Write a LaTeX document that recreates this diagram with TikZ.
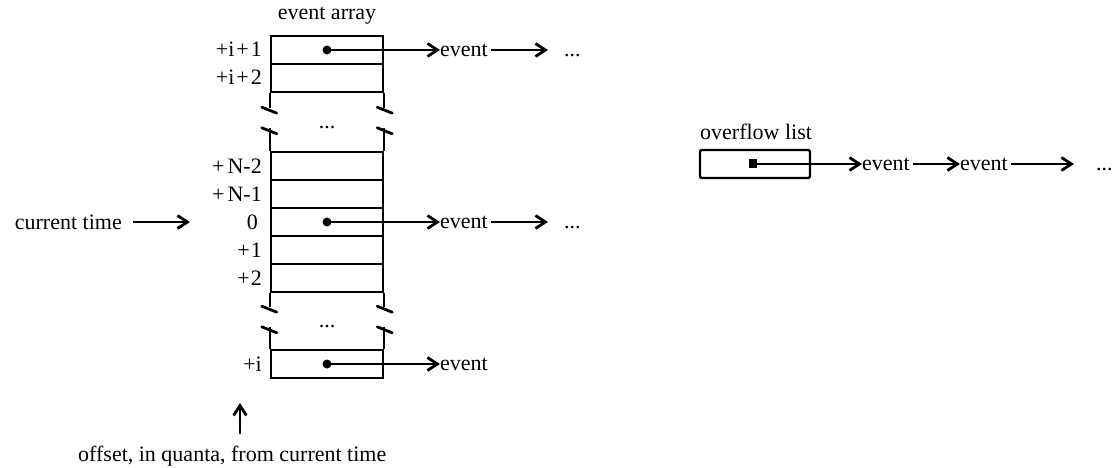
\documentclass[tikz,border=0pt]{standalone}
\usepackage{fontspec}
\setmainfont{Liberation Serif}
\usetikzlibrary{arrows.meta}
\begin{document}
\begin{tikzpicture}[x=1pt,y=-1pt,
  every node/.style={font=\fontsize{22}{26}\selectfont},
  cell/.style={draw,line width=2.4pt,minimum width=112pt,minimum height=28pt,inner sep=0pt},
  lbl/.style={anchor=base east,inner sep=0pt},
  txt/.style={inner sep=0pt},
  arr/.style={line width=2.2pt,-{Straight Barb[length=10pt,width=13pt,line width=2.8pt]}},
  brk/.style={line width=2.8pt,line cap=round},
  wall/.style={line width=2.4pt},
  dot/.style={fill=black}]
\useasboundingbox (0,0) rectangle (1114,468);

% array cells
\node[cell] (c1) at (327,50) {};
\node[cell] (c2) at (327,78) {};
\node[cell] (c3) at (327,166) {};
\node[cell] (c4) at (327,194) {};
\node[cell] (c5) at (327,222) {};
\node[cell] (c6) at (327,250) {};
\node[cell] (c7) at (327,278) {};
\node[cell] (c8) at (327,364) {};

% title
\node[txt] (title) at (327,16) {event array};

% labels
\node[lbl] (l1) at (262,57) {+i\kern2pt+\kern2pt1};
\node[lbl] (l2) at (262,85) {+i\kern2pt+\kern2pt2};
\node[lbl] (l3) at (262,173) {+\kern3pt N-2};
\node[lbl] (l4) at (262,201) {+\kern3pt N-1};
\node[lbl] (l5) at (258,229) {0};
\node[lbl] (l6) at (262,257) {+\kern1pt1};
\node[lbl] (l7) at (262,285) {+\kern1pt2};
\node[lbl] (l8) at (262,371) {+i};

% walls and break marks
\draw[wall] (c2.south west) -- ++(0,15) coordinate (b1l);
\draw[wall] (c2.south east) -- ++(0,15) coordinate (b1r);
\draw[brk] ([shift={(-8,-1)}]b1l) -- ++(15,6);
\draw[brk] ([shift={(-7,-1)}]b1r) -- ++(15,6);
\node[txt] (dots1) at (327,128) {...};
\draw[wall] (c3.north west) -- ++(0,-23) coordinate (b2l);
\draw[wall] (c3.north east) -- ++(0,-23) coordinate (b2r);
\draw[brk] ([shift={(-8,0)}]b2l) -- ++(15,6);
\draw[brk] ([shift={(-7,0)}]b2r) -- ++(15,6);

\draw[wall] (c7.south west) -- ++(0,14) coordinate (b3l);
\draw[wall] (c7.south east) -- ++(0,14) coordinate (b3r);
\draw[brk] ([shift={(-8,-1)}]b3l) -- ++(15,6);
\draw[brk] ([shift={(-7,-1)}]b3r) -- ++(15,6);
\node[txt] (dots2) at (327,327) {...};
\draw[wall] (c8.north west) -- ++(0,-22) coordinate (b4l);
\draw[wall] (c8.north east) -- ++(0,-22) coordinate (b4r);
\draw[brk] ([shift={(-8,0)}]b4l) -- ++(15,6);
\draw[brk] ([shift={(-7,0)}]b4r) -- ++(15,6);

% pointers from array
\coordinate (d1) at (327,50);
\coordinate (d5) at (327,222);
\coordinate (d8) at (327,364);
\fill[dot] (d1) circle (4.5pt);
\fill[dot] (d5) circle (4.5pt);
\fill[dot] (d8) circle (4.5pt);

\node[txt,anchor=west] (e1) at (440,50) {event};
\node[txt,anchor=west] (e5) at (440,222) {event};
\node[txt,anchor=west] (e8) at (440,364) {event};
\draw[arr] (d1) -- (e1.west);
\draw[arr] (d5) -- (e5.west);
\draw[arr] (d8) -- (e8.west);

\node[txt,anchor=base west] (m1) at (564,56.4) {...};
\node[txt,anchor=base west] (m5) at (564,228.4) {...};
\coordinate (t1) at (548,50);
\coordinate (t5) at (548,222);
\draw[arr] ([xshift=3pt]e1.east) -- (t1);
\draw[arr] ([xshift=3pt]e5.east) -- (t5);

% current time
\node[txt,anchor=east] (ct) at (122,222) {current time};
\coordinate (cta) at (190,222);
\draw[arr] ([xshift=11pt]ct.east) -- (cta);

% offset
\coordinate (upB) at (240,434);
\coordinate (upT) at (240,403);
\draw[arr] (upB) -- (upT);
\node[txt,anchor=base west] (off) at (78,461) {offset, in quanta, from current time};

% overflow list
\node[txt,anchor=base west] (ovt) at (700,140) {overflow list};
\node[draw,line width=2.4pt,rounded corners=2pt,minimum width=110pt,minimum height=28pt,inner sep=0pt] (ov) at (755,164) {};
\coordinate (od) at (753,164);
\fill[dot] ([shift={(-4,-4.5)}]od) rectangle ++(8,9);
\node[txt,anchor=west] (oe1) at (862,164) {event};
\node[txt,anchor=west] (oe2) at (960,164) {event};
\draw[arr] (od) -- (oe1.west);
\draw[arr] ([xshift=3pt]oe1.east) -- (oe2.west);
\coordinate (ot) at (1074,164);
\draw[arr] ([xshift=3pt]oe2.east) -- (ot);
\node[txt,anchor=base west] (om) at (1096,170.4) {...};
\end{tikzpicture}
\end{document}
